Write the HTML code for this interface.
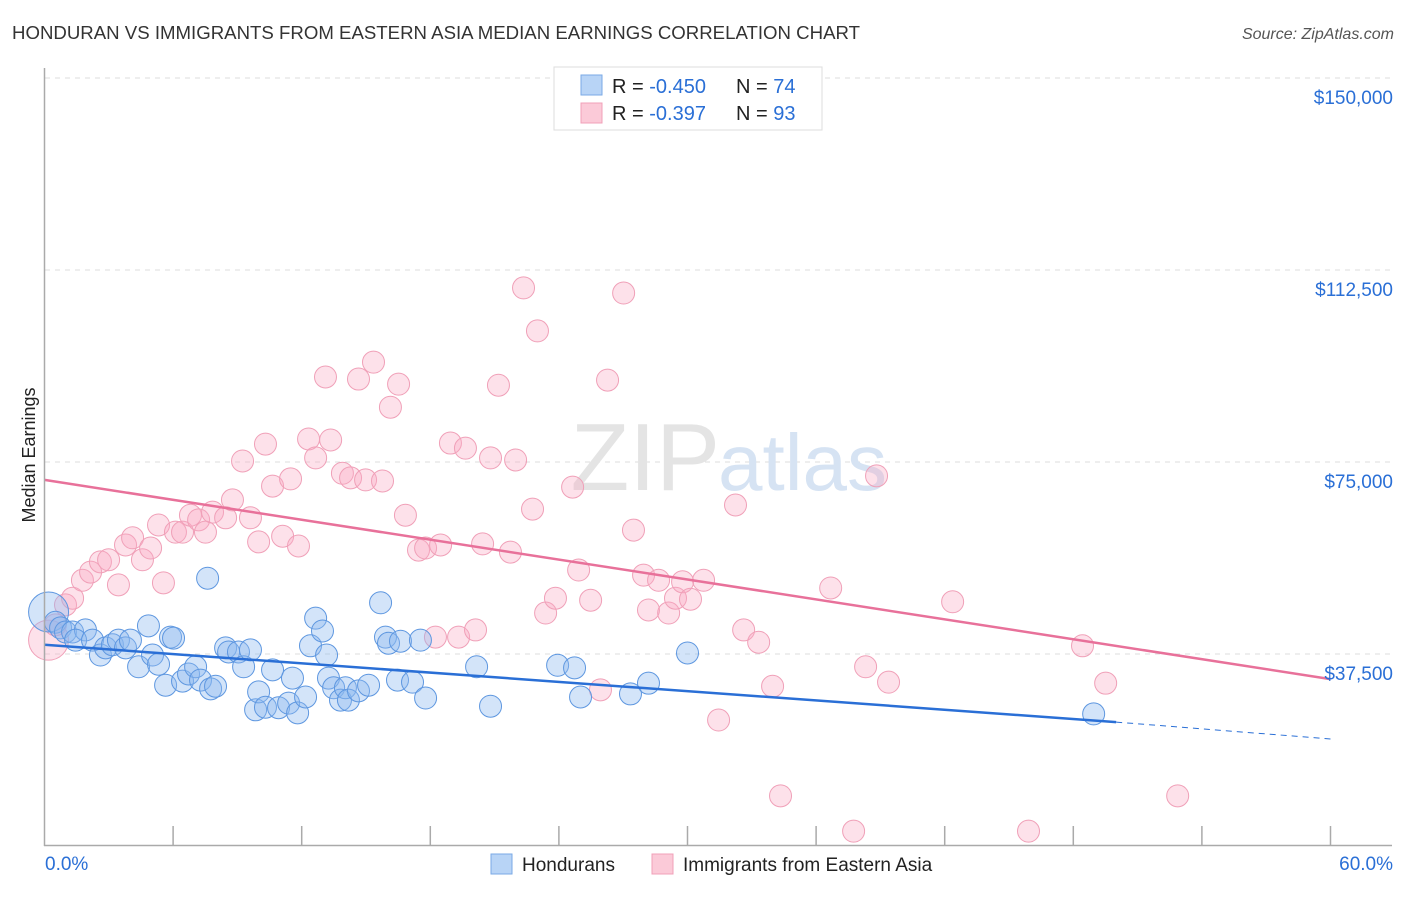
<!DOCTYPE html>
<html><head><meta charset="utf-8"><style>
body{margin:0;background:#fff;font-family:"Liberation Sans",sans-serif}
svg text{font-family:"Liberation Sans",sans-serif}
</style></head><body>
<svg id="chart" width="1406" height="892" viewBox="0 0 1406 892">
<text x="12" y="39" font-size="18" fill="#333" textLength="848" lengthAdjust="spacingAndGlyphs">HONDURAN VS IMMIGRANTS FROM EASTERN ASIA MEDIAN EARNINGS CORRELATION CHART</text>
<text x="1394" y="39" font-size="16" fill="#555" text-anchor="end" font-style="italic">Source: ZipAtlas.com</text>
<g id="grid"></g>
<text x="720" y="490" font-size="96" fill="#e4e4e4" text-anchor="end" font-family="Liberation Serif">ZIP</text>
<text x="718" y="490" font-size="80" fill="#d6e3f3">atlas</text>
<g id="pts"></g>
<g id="lines"></g>
<g id="axes"></g>
<text x="35" y="455" font-size="18" fill="#222" text-anchor="middle" transform="rotate(-90 35 455)">Median Earnings</text>
<g>
<rect x="554" y="67" width="268" height="63" fill="#fff" stroke="#ddd"/>
<rect x="581" y="75" width="21" height="20" fill="#b8d4f6" stroke="#7aa9e6"/>
<rect x="581" y="103" width="21" height="20" fill="#fbcad8" stroke="#f0a0b8"/>
<text x="612" y="93" font-size="20" fill="#222">R = <tspan fill="#2a6fd6">-0.450</tspan></text>
<text x="736" y="93" font-size="20" fill="#222">N = <tspan fill="#2a6fd6">74</tspan></text>
<text x="612" y="120" font-size="20" fill="#222">R =  <tspan fill="#2a6fd6">-0.397</tspan></text>
<text x="736" y="120" font-size="20" fill="#222">N = <tspan fill="#2a6fd6">93</tspan></text>
</g>
<g>
<rect x="491" y="854" width="21" height="20" fill="#b8d4f6" stroke="#7aa9e6"/>
<text x="522" y="871" font-size="19" fill="#222">Hondurans</text>
<rect x="652" y="854" width="21" height="20" fill="#fbcad8" stroke="#f0a0b8"/>
<text x="683" y="871" font-size="19" fill="#222">Immigrants from Eastern Asia</text>
</g>
</svg>
<script>
const blueX=[0.19,0.51,0.75,0.98,1.31,1.91,1.45,2.24,2.61,2.85,3.17,3.45,3.78,4.01,4.39,4.85,5.04,5.32,5.65,5.88,6.02,6.44,6.72,7.05,7.28,7.61,7.75,7.98,8.45,8.59,9.05,9.29,9.61,9.85,9.99,10.31,10.64,10.92,11.39,11.57,11.81,12.18,12.41,12.65,12.97,13.16,13.25,13.49,13.81,14.04,14.18,14.65,15.12,15.68,15.91,16.05,16.47,16.61,17.17,17.54,17.78,20.16,20.81,23.94,24.73,25.01,27.34,28.18,30.00,48.95];
const blueY=[45.7,43.7,42.6,41.8,41.8,42.2,40.2,40.2,37.3,38.7,39.3,40.2,38.7,40.2,35.0,43.0,37.3,35.5,31.4,40.8,40.6,32.2,33.6,35.0,32.4,52.3,30.7,31.2,38.7,37.9,37.9,35.0,38.3,26.6,30.1,27.1,34.4,27.0,27.9,32.8,26.0,29.1,39.1,44.5,42.0,37.3,32.8,30.9,28.5,30.9,28.5,30.3,31.4,47.5,40.8,39.6,32.4,40.0,32.0,40.2,28.9,35.0,27.3,35.3,34.8,29.1,29.7,31.8,37.7,25.8];
const pinkX=[0.19,0.51,0.98,1.31,1.77,2.15,2.61,2.99,3.45,3.78,4.11,4.57,4.95,5.32,5.55,6.11,6.44,6.81,7.19,7.51,7.84,8.45,8.77,9.24,9.61,9.99,10.31,10.64,11.11,11.48,11.85,12.32,12.65,13.11,13.35,13.90,14.28,14.65,14.98,15.35,15.77,16.14,16.52,16.84,17.45,17.78,18.24,18.48,18.94,19.32,19.64,20.11,20.44,20.81,21.18,21.74,21.98,22.35,22.77,23.00,23.38,23.84,24.64,24.92,25.48,25.94,26.27,27.02,27.48,27.95,28.18,28.65,29.12,29.44,29.77,30.14,30.75,31.45,32.24,32.62,33.32,33.97,34.34,36.68,37.75,38.31,38.82,39.38,42.37,45.91,48.43,49.51,52.87];
const pinkY=[40.2,43.2,47.1,48.4,51.9,53.5,55.5,55.9,51.0,58.8,60.2,55.9,58.2,62.7,51.4,61.3,61.3,64.6,63.7,61.3,65.2,64.1,67.6,75.2,64.1,59.4,78.5,70.3,60.5,71.7,58.6,79.5,75.8,91.6,79.3,72.8,71.9,91.2,71.5,94.5,71.3,85.7,90.2,64.6,57.8,58.2,40.8,58.8,78.7,40.8,77.7,42.2,59.0,75.8,90.0,57.4,75.4,109.0,65.8,100.6,45.5,48.4,70.1,53.9,48.0,30.5,91.0,108.0,61.7,52.9,46.1,51.9,45.5,48.4,51.6,48.2,51.9,24.6,66.6,42.2,39.8,31.2,9.8,50.4,2.9,35.0,72.3,32.0,47.7,2.9,39.1,31.8,9.8];
const blueTrend=[[0,39.3],[50,24.2],[60,20.9]];
const pinkTrend=[[0,71.5],[60,32.6]];
const yTicks=[37.5,75,112.5,150];
const yTickLabels=["$37,500","$75,000","$112,500","$150,000"];
const xTicks=[0,6,12,18,24,30,36,42,48,54,60];

const NS="http://www.w3.org/2000/svg";
const X=v=>44.5+v/60*1286;
const Y=v=>846-v/150*768;
function mk(tag,attrs,parent){const e=document.createElementNS(NS,tag);for(const k in attrs)e.setAttribute(k,attrs[k]);parent.appendChild(e);return e;}
const grid=document.getElementById('grid'),axes=document.getElementById('axes'),pts=document.getElementById('pts'),lines=document.getElementById('lines');
yTicks.forEach((t,i)=>{
 const l=mk('line',{x1:45,x2:1392,y1:Y(t),y2:Y(t),stroke:'#ddd','stroke-dasharray':'5,5'},grid);
 
 
 const tx=mk('text',{x:1393,y:Y(t)+26,'font-size':19,fill:'#2a6fd6','text-anchor':'end'},axes);
 tx.textContent=yTickLabels[i];
 
 
});
const ax=mk('line',{x1:44.5,x2:44.5,y1:68,y2:846,stroke:'#aaa','stroke-width':1.5},axes);


const bx=mk('line',{x1:44,x2:1392,y1:845.5,y2:845.5,stroke:'#aaa','stroke-width':1.5},axes);


xTicks.forEach(t=>{
 if(t===0)return;
 const l=mk('line',{x1:X(t),x2:X(t),y1:826,y2:845,stroke:'#aaa','stroke-width':1.5},axes);
 
 
});
const x0=mk('text',{x:45,y:870,'font-size':19,fill:'#2a6fd6'},axes);x0.textContent='0.0%';


const x1=mk('text',{x:1393,y:870,'font-size':19,fill:'#2a6fd6','text-anchor':'end'},axes);x1.textContent='60.0%';


function dots(xs,ys,fill,stroke,name){
 xs.forEach((x,i)=>{
  const r=i===0?20:11;
  const c=mk('circle',{cx:X(x),cy:Y(ys[i]),r:r,fill:fill,stroke:stroke,'stroke-width':1},pts);
  
  
 });
}
dots(pinkX,pinkY,'rgba(248,170,195,0.35)','#f0a0b8','point-eastern-asia');
dots(blueX,blueY,'rgba(140,185,240,0.38)','#5e97e0','point-hondurans');
const bl=mk('line',{x1:X(blueTrend[0][0]),y1:Y(blueTrend[0][1]),x2:X(blueTrend[1][0]),y2:Y(blueTrend[1][1]),stroke:'#2a6fd6','stroke-width':2.5},lines);


const bd=mk('line',{x1:X(blueTrend[1][0]),y1:Y(blueTrend[1][1]),x2:X(blueTrend[2][0]),y2:Y(blueTrend[2][1]),stroke:'#2a6fd6','stroke-width':1,'stroke-dasharray':'6,5'},lines);


const pl=mk('line',{x1:X(pinkTrend[0][0]),y1:Y(pinkTrend[0][1]),x2:X(pinkTrend[1][0]),y2:Y(pinkTrend[1][1]),stroke:'#e8719a','stroke-width':2.5},lines);


</script>
</body></html>
